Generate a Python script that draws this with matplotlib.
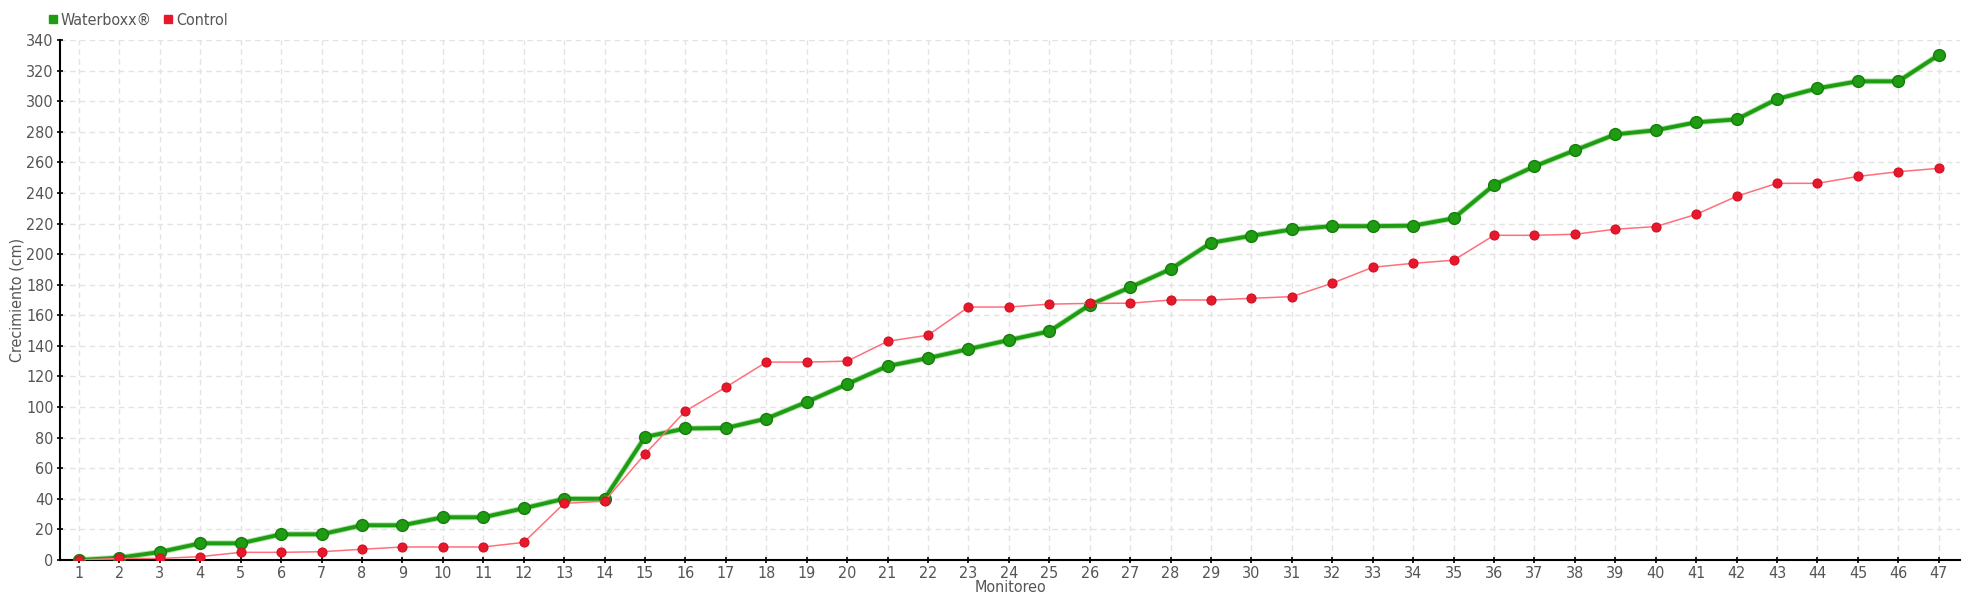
import matplotlib
matplotlib.use("Agg")
import matplotlib.pyplot as plt
from matplotlib.lines import Line2D

monitoreo = list(range(1, 48))
waterboxx = [0, 1.5, 5.2, 10.9, 10.9, 16.8, 16.8, 22.7, 22.7, 27.9,
             27.9, 33.8, 40, 40, 80.4, 86, 86.3, 92.4, 103.3, 115,
             126.8, 132, 137.9, 143.8, 149.5, 166.8, 178.3, 190.2, 207.4, 212,
             216.1, 218.3, 218.3, 218.6, 223.4, 245.2, 257.4, 267.9, 278.3, 281,
             286.2, 288.1, 301.4, 308.4, 313, 313, 330.2]
control = [0, 1, 1, 2.2, 5, 5, 5.4, 7, 8.5, 8.5,
           8.5, 11.5, 37, 38.5, 69.3, 97.4, 113, 129.4, 129.4, 130,
           143, 147, 165.4, 165.4, 167.3, 167.8, 167.9, 170, 170, 171.1,
           172.2, 181, 191.4, 194, 196, 212.3, 212.3, 213, 216.3, 218,
           226, 237.8, 246.3, 246.3, 250.8, 253.9, 256.1]
yticks = list(range(0, 341, 20))
series_names = ["Waterboxx®", "Control"]

green = "#1e9c12"
green_edge = "#167c0c"
red = "#e8182c"
txt = "#555555"
plt.rcParams["font.family"] = ["DejaVu Sans"]
plt.rcParams["font.stretch"] = "condensed"
fs = 11.5

fig = plt.figure(figsize=(19.8, 6), dpi=100)
ax = fig.add_axes([0.0303, 0.0667, 0.9597, 0.8666])

ax.plot(monitoreo, waterboxx, color="#7bcf6f", lw=4.2, alpha=0.6, zorder=2, solid_capstyle="round")
ax.plot(monitoreo, waterboxx, color=green, lw=2.8, marker="o", ms=8.5,
        mfc=green, mec=green_edge, mew=1, zorder=3)
ax.plot(monitoreo, control, color="#ff6f7c", lw=1.1, marker="o", ms=6.5,
        mfc=red, mec="#d01020", mew=0.8, zorder=4)

ax.set_xlim(0.53, 47.53)
ax.set_ylim(0, 340)
ax.set_xticks(monitoreo)
ax.set_yticks(yticks)
ax.grid(True, color="#e3e3e3", linestyle=(0, (4, 3)), lw=1, zorder=0)
ax.set_axisbelow(True)

for s in ["top", "right"]:
    ax.spines[s].set_visible(False)
for s in ["left", "bottom"]:
    ax.spines[s].set_color("black")
    ax.spines[s].set_linewidth(1.5)

ax.tick_params(axis="both", direction="inout", length=5, width=1.2, color="black",
               labelcolor=txt, labelsize=fs, pad=2)
ax.set_xlabel("Monitoreo", color=txt, fontsize=fs, labelpad=-1)
ax.set_ylabel("Crecimiento (cm)", color=txt, fontsize=fs, labelpad=1)

handles = [Line2D([], [], ls="none", marker="s", ms=5.5, mfc=green, mec=green),
           Line2D([], [], ls="none", marker="s", ms=5.5, mfc=red, mec=red)]
leg = fig.legend(handles, series_names, loc="upper left", bbox_to_anchor=(0.017, 1.0),
                 ncol=2, frameon=False, fontsize=fs, handletextpad=0.1,
                 columnspacing=0.6, handlelength=0.8, borderaxespad=0.4)
for t in leg.get_texts():
    t.set_color(txt)

fig.savefig("out.png", dpi=100)
